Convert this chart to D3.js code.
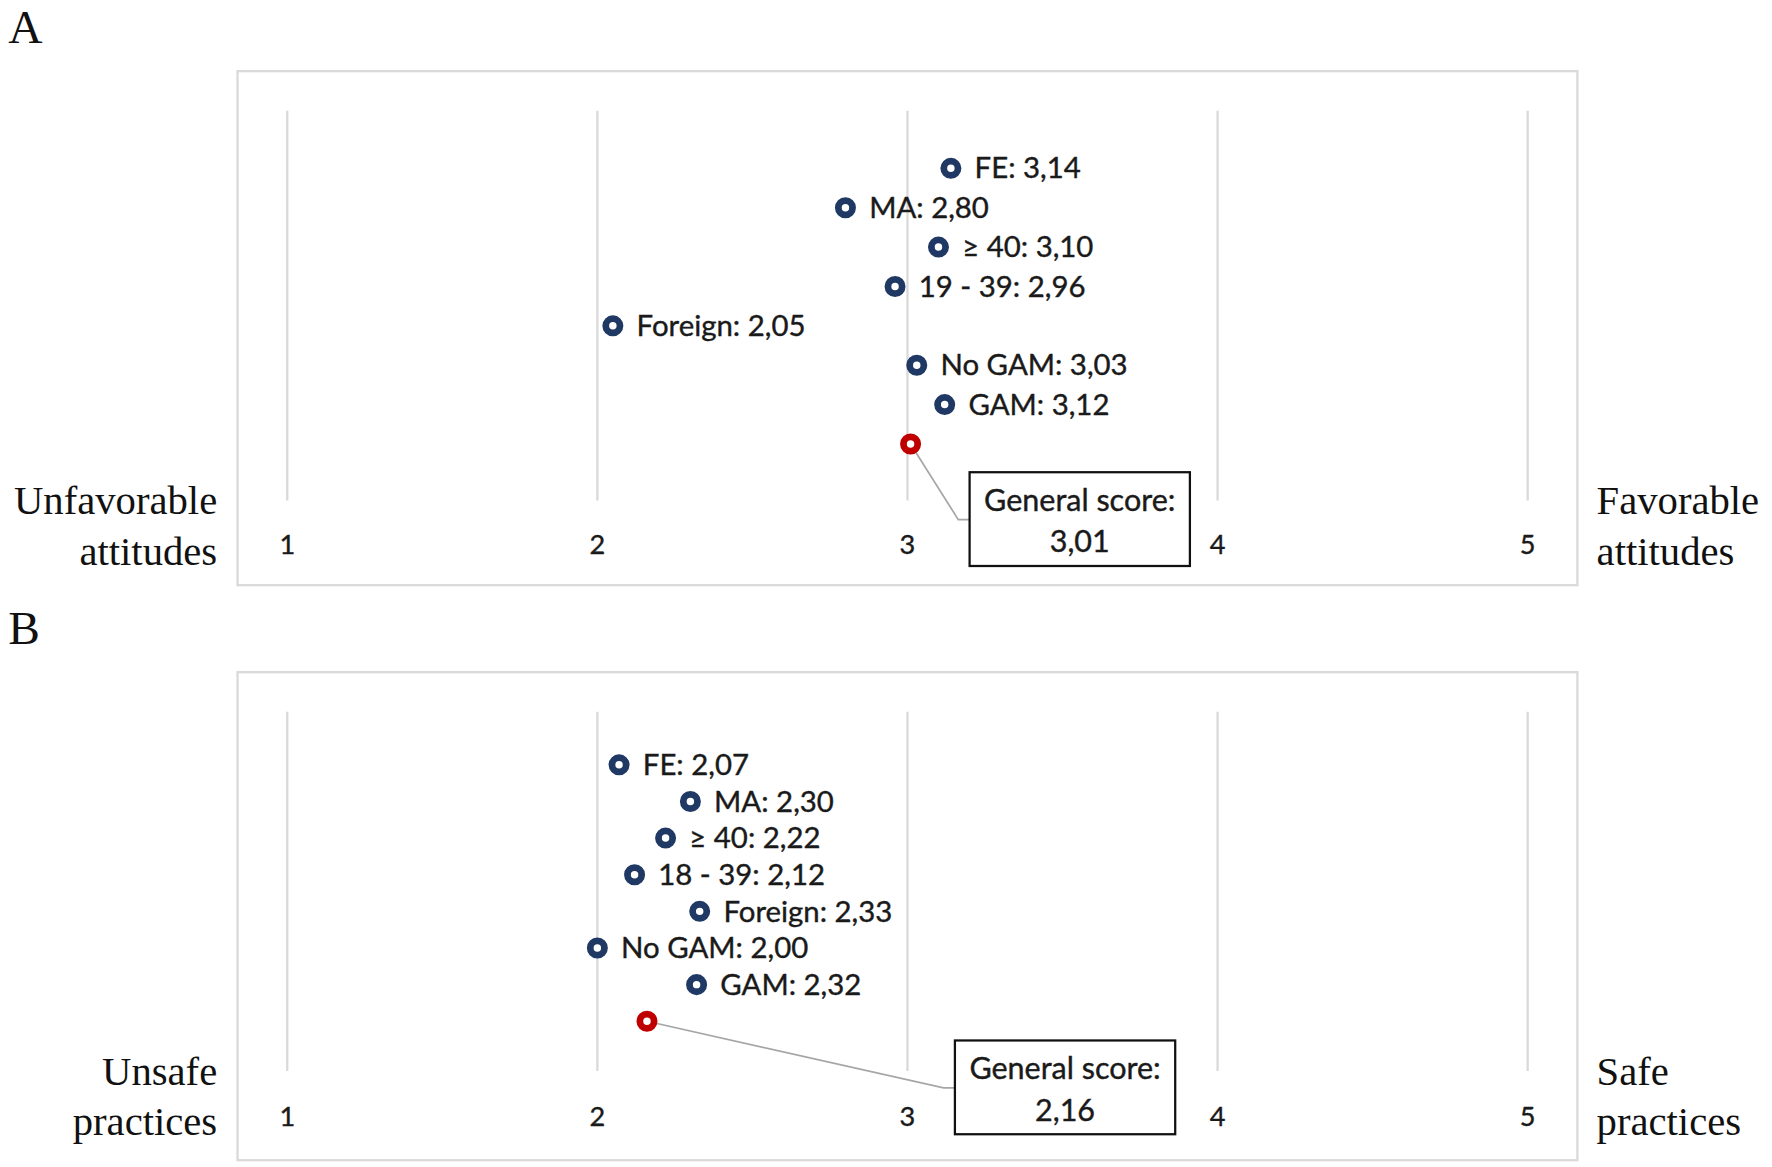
<!DOCTYPE html>
<meta charset="utf-8">
<script src="https://d3js.org/d3.v7.min.js"></script>
<style>
  body { margin: 0; background: #fff; }
  .lab { font-family: Lato, "Open Sans", sans-serif; fill: #1a1a1a; stroke: #1a1a1a; stroke-width: 0.35; }
  .serif { font-family: "Liberation Serif", "DejaVu Serif", serif; fill: #111; }
</style>
<body>
<svg width="1772" height="1167" viewBox="0 0 1568 1033"></svg>
<script>
    // data
    var groupsA = ['FE', 'MA', '\u2265 40', '19 - 39', 'Foreign', 'No GAM', 'GAM'];
    var valuesA = [3.14, 2.80, 3.10, 2.96, 2.05, 3.03, 3.12];
    var generalA = 3.01;
    var groupsB = ['FE', 'MA', '\u2265 40', '18 - 39', 'Foreign', 'No GAM', 'GAM'];
    var valuesB = [2.07, 2.30, 2.22, 2.12, 2.33, 2.00, 2.32];
    var generalB = 2.16;
    var ticks = [1, 2, 3, 4, 5];

    var svg = d3.select('svg');
    var x = d3.scaleLinear().domain([1, 5]).range([254, 1352]);
    var fmt = function(v){ return d3.format('.2f')(v).replace('.', ','); };

    var panels = [
        {letter: 'A', top: 63, bottom: 518, gTop: 98, gBot: 443, y0: 149, y1: 393, tickY: 490,
         groups: groupsA, values: valuesA, general: generalA,
         left: ['Unfavorable', 'attitudes'], right: ['Favorable', 'attitudes'], boxX: 858, boxY: 418},
        {letter: 'B', top: 595, bottom: 1027, gTop: 630, gBot: 948, y0: 677, y1: 904, tickY: 997,
         groups: groupsB, values: valuesB, general: generalB,
         left: ['Unsafe', 'practices'], right: ['Safe', 'practices'], boxX: 845, boxY: 921}
    ];

    panels.forEach(function(p){
        var g = svg.append('g');

        g.append('text').attr('class', 'serif').attr('x', 7).attr('y', p.top - 25)
            .attr('font-size', 42).text(p.letter);

        g.append('rect').attr('x', 210).attr('y', p.top).attr('width', 1186).attr('height', p.bottom - p.top)
            .attr('fill', 'none').attr('stroke', '#d9d9d9').attr('stroke-width', 2);

        g.selectAll('line.grid').data(ticks).enter().append('line')
            .attr('x1', x).attr('x2', x).attr('y1', p.gTop).attr('y2', p.gBot)
            .attr('stroke', '#d9d9d9').attr('stroke-width', 2);

        g.selectAll('text.tick').data(ticks).enter().append('text')
            .attr('class', 'lab').attr('x', x).attr('y', p.tickY)
            .attr('text-anchor', 'middle').attr('font-size', 24).text(function(d){ return d; });

        // side labels
        p.left.forEach(function(t, i){
            g.append('text').attr('class', 'serif').attr('x', 192).attr('y', p.gBot + 12 + i * 45)
                .attr('text-anchor', 'end').attr('font-size', 36).text(t);
        });
        p.right.forEach(function(t, i){
            g.append('text').attr('class', 'serif').attr('x', 1413).attr('y', p.gBot + 12 + i * 45)
                .attr('font-size', 36).text(t);
        });

        var cats = p.groups.concat(['General']);
        var y = d3.scalePoint().domain(cats).range([p.y0, p.y1]);
        var pts = p.groups.map(function(c, i){ return {cat: c, v: p.values[i]}; });

        var yg = y('General'), xg = x(p.general);
        var midY = p.boxY + 42;
        g.append('polyline')
            .attr('points', [[xg, yg], [p.boxX - 10, midY], [p.boxX, midY]].join(' '))
            .attr('fill', 'none').attr('stroke', '#a6a6a6').attr('stroke-width', 1.5);

        g.selectAll('circle.pt').data(pts).enter().append('circle')
            .attr('cx', function(d){ return x(d.v); }).attr('cy', function(d){ return y(d.cat); })
            .attr('r', 6.3).attr('fill', '#fff').attr('stroke', '#1f3864').attr('stroke-width', 6);

        g.selectAll('text.pl').data(pts).enter().append('text')
            .attr('class', 'lab').attr('x', function(d){ return x(d.v) + 21; })
            .attr('y', function(d){ return y(d.cat) + 9; })
            .attr('font-size', 26).text(function(d){ return d.cat + ': ' + fmt(d.v); });

        g.append('circle').attr('cx', xg).attr('cy', yg).attr('r', 6.3)
            .attr('fill', '#fff').attr('stroke', '#c00000').attr('stroke-width', 6);

        g.append('rect').attr('x', p.boxX).attr('y', p.boxY).attr('width', 195).attr('height', 83)
            .attr('fill', '#fff').attr('stroke', '#111').attr('stroke-width', 2);
        g.append('text').attr('class', 'lab').attr('x', p.boxX + 97.5).attr('y', p.boxY + 34)
            .attr('text-anchor', 'middle').attr('font-size', 27).text('General score:');
        g.append('text').attr('class', 'lab').attr('x', p.boxX + 97.5).attr('y', p.boxY + 71)
            .attr('text-anchor', 'middle').attr('font-size', 27).text(fmt(p.general));
    });
</script>
</body>
